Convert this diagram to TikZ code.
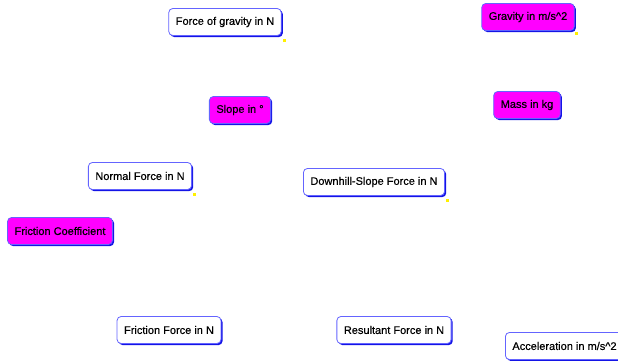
\documentclass[tikz,border=0pt]{standalone}
\usepackage{fontspec}
\setmainfont{Liberation Sans}
\newfontfamily\boxfont{Liberation Sans}[FakeBold=0.5]
\usetikzlibrary{calc}
\usetikzlibrary{shadows}

\definecolor{edgeblue}{RGB}{100,100,255}
\definecolor{shadowblue}{RGB}{20,20,230}
\definecolor{parammagenta}{RGB}{255,0,255}
\definecolor{markyellow}{RGB}{255,240,0}

\tikzset{
  quantity/.style={rectangle, rounded corners=4pt, draw=edgeblue, line width=0.8pt,
    fill=white, minimum height=27pt, inner xsep=7pt, inner ysep=0pt,
    font=\boxfont\fontsize{11}{13}\selectfont,
    drop shadow={shadow xshift=1.6pt, shadow yshift=-1.6pt, fill=shadowblue, opacity=1}},
  param/.style={quantity, fill=parammagenta},
  yellowdot/.style={fill=markyellow}
}

\begin{document}
\begin{tikzpicture}[x=1pt, y=-1pt]
      \useasboundingbox (0,0) rectangle (618,361);

      \node[quantity] (gforce) at (225,22) {Force of gravity in N};
      \node[param] (grav) at (528,17) {Gravity in m/s\textasciicircum 2};
      \node[param] (slope) at (240,110) {Slope in °};
      \node[param] (mass) at (527,105) {Mass in kg};
      \node[quantity] (normal) at (140,176) {Normal Force in N};
      \node[quantity] (downhill) at (374,182) {Downhill-Slope Force in N};
      \node[param] (fcoeff) at (60,231) {Friction Coefficient};
      \node[quantity] (friction) at (169,330) {Friction Force in N};
      \node[quantity] (result) at (394,330) {Resultant Force in N};
      \node[quantity, anchor=west] (accel) at (505,346) {Acceleration in m/s\textasciicircum 2};

      % small yellow marks
      \fill[yellowdot] ($(gforce.south east)+(1,3)$) rectangle +(3,3);
      \fill[yellowdot] ($(grav.south east)+(0,1)$) rectangle +(3,3);
      \fill[yellowdot] ($(normal.south east)+(1,3)$) rectangle +(3,3);
      \fill[yellowdot] ($(downhill.south east)+(1,3)$) rectangle +(3,3);
    \end{tikzpicture}
\end{document}
